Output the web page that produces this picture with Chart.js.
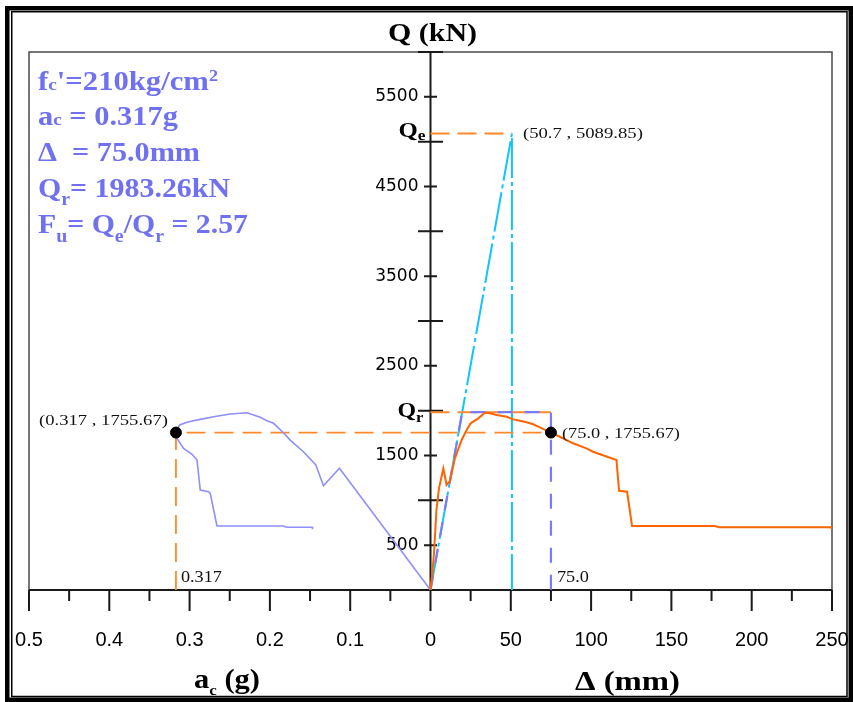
<!DOCTYPE html>
<html>
<head>
<meta charset="utf-8">
<title>Q - ac / Δ</title>
<script src="https://cdn.jsdelivr.net/npm/chart.js@4.4.1/dist/chart.umd.min.js"></script>
<style>
  html, body { margin: 0; padding: 0; background: #fff; }
  #wrap { width: 853px; height: 702px; }
</style>
</head>
<body>
<div id="wrap"><canvas id="c" width="853" height="702"></canvas></div>
<script>
// Capacity curve expressed as spectral acceleration (g) against base shear (kN)
const accelG = [0, 0.1134, 0.1333, 0.1428, 0.1582, 0.1748, 0.1831, 0.1955, 0.2037, 0.2121, 0.2204, 0.2286,
  0.2494, 0.2701, 0.2867, 0.2950, 0.3032, 0.3124, 0.317, 0.3157, 0.3075, 0.2970, 0.2908, 0.2867,
  0.2764, 0.2743, 0.2659, 0.1831, 0.1789, 0.147, 0.147];
const accelQ = [0, 1357, 1163, 1394, 1542, 1672, 1754, 1859, 1888, 1926, 1951, 1977,
  1962, 1932, 1903, 1888, 1870, 1840, 1755.67, 1691, 1580, 1513, 1450, 1115,
  1096, 1078, 714, 714, 699, 699, 677];

// Pushover curve: roof displacement (mm) against base shear (kN)
const dispMm = [0, 1.2, 2.2, 3.7, 5.3, 8.0, 10.0, 12.1, 15.2, 19.4, 22.5, 25.0, 29.7, 33.9, 37.0, 41.2,
  47.4, 51.5, 55.7, 59.8, 63.9, 68.1, 75.0, 80.5, 88.8, 97.1, 101.2, 115.8, 117.4, 122.4, 125.5,
  176.9, 180.0, 249.5, 250];
const dispQ = [0, 201, 413, 892, 1137, 1355, 1171, 1215, 1468, 1673, 1784, 1859, 1914, 1977, 1970, 1951,
  1932, 1903, 1888, 1870, 1848, 1814, 1755.67, 1709, 1636, 1580, 1542, 1450, 1107, 1096, 714,
  714, 699, 699, 677];

// Performance values
const fcPrime = 210;        // kg/cm2
const perfAccel = 0.317;    // g
const perfDisp = 75.0;      // mm
const perfQ = 1755.67;      // kN
const Qr = 1983.26;         // kN, idealised yield strength
const dispY = 19.76;        // mm, idealised yield displacement
const Qe = 5089.85;         // kN, elastic demand
const dispE = 50.7;         // mm

// Tick labels
const accelTickLabels = ['0.5', '0.4', '0.3', '0.2', '0.1'];
const dispTickLabels = ['0', '50', '100', '150', '200', '250'];
const qTickLabels = ['500', '1500', '2500', '3500', '4500', '5500'];
const qMajorTicks = [1000, 2000, 3000, 4000, 5000, 6000];

// the acceleration half shares the horizontal scale: 0.1 g occupies the width of 50 mm
const G_SPAN = 500;
const gx = g => -g * G_SPAN;

const xTickValues = [...accelTickLabels.map(l => gx(Number(l))), ...dispTickLabels.map(Number)];
const xTickText = [...accelTickLabels, ...dispTickLabels];

const pts = (xs, ys, fx = v => v) => xs.map((v, i) => ({ x: fx(v), y: ys[i] }));

const ORANGE = '#ff6400';
const ORANGE_D = '#ff8a2c';
const VIOLET = '#7a7aff';
const LAVENDER = '#8e8eff';
const CYAN = '#10c4ff';
const TEXT_VIOLET = '#7070f2';
const SERIF = '"Liberation Serif", "Times New Roman", serif';
const B = px => `bold ${px}px ${SERIF}`;
const R = px => `${px}px ${SERIF}`;

// draws a sequence of text runs, squeezed or stretched horizontally to a given width
function drawRuns(ctx, runs, x, y, width, color, anchor) {
  ctx.save();
  let natural = 0;
  runs.forEach(r => { ctx.font = r.font; r.w = ctx.measureText(r.text).width; natural += r.w; });
  const s = width / natural;
  const left = anchor === 'right' ? x - width : x;
  ctx.translate(left, y);
  ctx.scale(s, 1);
  ctx.fillStyle = color;
  ctx.textAlign = 'left';
  ctx.textBaseline = 'alphabetic';
  let cx = 0;
  runs.forEach(r => { ctx.font = r.font; ctx.fillText(r.text, cx, r.dy || 0); cx += r.w; });
  ctx.restore();
}

const axesFrame = {
  id: 'axesFrame',
  beforeDatasetsDraw(chart) {
    const { ctx, chartArea: a, scales: { x, y } } = chart;
    const x0 = x.getPixelForValue(0), y0 = y.getPixelForValue(0);
    ctx.save();
    // plot frame
    ctx.strokeStyle = '#4a4a4a';
    ctx.lineWidth = 1.5;
    ctx.beginPath();
    ctx.moveTo(a.left, a.bottom); ctx.lineTo(a.left, a.top);
    ctx.lineTo(a.right, a.top); ctx.lineTo(a.right, a.bottom);
    ctx.stroke();
    // axis lines
    ctx.strokeStyle = '#1a1a1a';
    ctx.lineWidth = 2;
    ctx.beginPath();
    ctx.moveTo(a.left, y0); ctx.lineTo(a.right, y0);
    ctx.moveTo(x0, a.top); ctx.lineTo(x0, y0);
    ctx.stroke();
    // horizontal ticks: major at labels, minor midway
    ctx.beginPath();
    xTickValues.forEach((v, i) => {
      const p = x.getPixelForValue(v);
      ctx.moveTo(p, y0); ctx.lineTo(p, y0 + 21);
      if (i < xTickValues.length - 1) {
        const m = x.getPixelForValue((v + xTickValues[i + 1]) / 2);
        ctx.moveTo(m, y0); ctx.lineTo(m, y0 + 11);
      }
    });
    // vertical ticks
    qTickLabels.forEach(l => {
      const p = y.getPixelForValue(Number(l));
      ctx.moveTo(x0 - 6.5, p); ctx.lineTo(x0 + 6.5, p);
    });
    qMajorTicks.forEach(v => {
      const p = y.getPixelForValue(v);
      ctx.moveTo(x0 - 12.5, p); ctx.lineTo(x0 + 12.5, p);
    });
    ctx.stroke();
    ctx.restore();
  }
};

const notes = {
  id: 'notes',
  afterDraw(chart) {
    const { ctx, scales: { x, y } } = chart;
    const px = v => x.getPixelForValue(v), py = v => y.getPixelForValue(v);
    const x0 = px(0), y0 = py(0);

    // axis titles
    drawRuns(ctx, [{ text: 'Q (kN)', font: B(25) }], 388, 41, 89, '#000');
    drawRuns(ctx, [{ text: 'a', font: B(27) }, { text: 'c', font: B(15), dy: 7 }, { text: ' (g)', font: B(27) }],
      194, 688, 66, '#000');
    drawRuns(ctx, [{ text: 'Δ (mm)', font: B(27) }], 575, 690, 105, '#000');

    // parameter block
    drawRuns(ctx, [{ text: 'f', font: B(27) }, { text: 'c', font: B(17) },
      { text: `'=${fcPrime}kg/cm`, font: B(27) }, { text: '2', font: B(16), dy: -9 }], 38, 90, 180, TEXT_VIOLET);
    drawRuns(ctx, [{ text: 'a', font: B(27) }, { text: 'c', font: B(17) },
      { text: ` = ${perfAccel.toFixed(3)}g`, font: B(27) }], 38, 125, 140, TEXT_VIOLET);
    drawRuns(ctx, [{ text: `Δ  = ${perfDisp.toFixed(1)}mm`, font: B(27) }], 38, 161, 162, TEXT_VIOLET);
    drawRuns(ctx, [{ text: 'Q', font: B(27) }, { text: 'r', font: B(18), dy: 8 },
      { text: `= ${Qr.toFixed(2)}kN`, font: B(27) }], 38, 197, 192, TEXT_VIOLET);
    drawRuns(ctx, [{ text: 'F', font: B(27) }, { text: 'u', font: B(18), dy: 9 }, { text: '= Q', font: B(27) },
      { text: 'e', font: B(18), dy: 9 }, { text: '/Q', font: B(27) }, { text: 'r', font: B(18), dy: 9 },
      { text: ` = ${(Qe / Qr).toFixed(2)}`, font: B(27) }], 38, 233, 210, TEXT_VIOLET);

    // strength labels beside the vertical axis
    drawRuns(ctx, [{ text: 'Q', font: B(20) }, { text: 'e', font: B(14), dy: 3 }],
      x0 - 5, py(Qe) + 3.5, 27, '#000', 'right');
    drawRuns(ctx, [{ text: 'Q', font: B(20) }, { text: 'r', font: B(14), dy: 5 }],
      x0 - 7, py(Qr) + 5, 26, '#000', 'right');

    // coordinate labels
    drawRuns(ctx, [{ text: `(${dispE.toFixed(1)} , ${Qe.toFixed(2)})`, font: R(15) }],
      px(dispE) + 11, py(Qe) + 4, 120, '#111');
    drawRuns(ctx, [{ text: `(${perfAccel.toFixed(3)} , ${perfQ.toFixed(2)})`, font: R(15) }],
      px(gx(perfAccel)) - 8, py(perfQ) - 7.5, 129, '#111', 'right');
    drawRuns(ctx, [{ text: `(${perfDisp.toFixed(1)} , ${perfQ.toFixed(2)})`, font: R(15) }],
      px(perfDisp) + 11, py(perfQ) + 5, 118, '#111');
    drawRuns(ctx, [{ text: perfAccel.toFixed(3), font: R(16) }], px(gx(perfAccel)) + 5, y0 - 8, 41, '#111');
    drawRuns(ctx, [{ text: perfDisp.toFixed(1), font: R(16) }], px(perfDisp) + 6, y0 - 8, 32, '#111');

    // double page border
    ctx.save();
    ctx.strokeStyle = '#000';
    ctx.lineWidth = 4.5;
    ctx.strokeRect(7.25, 8.25, 853 - 5 - 4.5, 702 - 6 - 4.5);
    ctx.lineWidth = 1.5;
    ctx.strokeRect(11.75, 11.75, 847 - 11.75, 696.5 - 11.75);
    ctx.restore();
  }
};

const lineDs = (data, color, width, dash, order) => ({
  data, borderColor: color, borderWidth: width, borderDash: dash || [],
  pointRadius: 0, tension: 0, fill: false, order
});

new Chart(document.getElementById('c'), {
  type: 'line',
  data: {
    datasets: [
      { type: 'scatter', data: [{ x: gx(perfAccel), y: perfQ }, { x: perfDisp, y: perfQ }],
        pointRadius: 5.5, pointBackgroundColor: '#000', pointBorderColor: '#000', order: 0 },
      lineDs(pts(dispMm, dispQ), ORANGE, 2, null, 1),
      lineDs(pts(accelG, accelQ, gx), LAVENDER, 1.6, null, 2),
      lineDs([{ x: 0, y: 0 }, { x: dispY, y: Qr }, { x: perfDisp, y: Qr }, { x: perfDisp, y: 0 }],
        VIOLET, 2.2, [15, 12], 3),
      lineDs([{ x: gx(perfAccel), y: 0 }, { x: gx(perfAccel), y: perfQ }, { x: perfDisp, y: perfQ }],
        ORANGE_D, 1.8, [19, 9], 4),
      lineDs([{ x: 0, y: Qr }, { x: perfDisp, y: Qr }], ORANGE_D, 2, [19, 8], 5),
      lineDs([{ x: 0, y: Qe }, { x: dispE, y: Qe }], ORANGE_D, 2, [19, 8], 5),
      lineDs([{ x: 0, y: 0 }, { x: dispE, y: Qe }, { x: dispE, y: 0 }], CYAN, 2, [40, 4, 4, 4], 6)
    ]
  },
  options: {
    responsive: false,
    animation: false,
    devicePixelRatio: 1,
    layout: { padding: { left: 29, right: 21, top: 52, bottom: 0 } },
    plugins: { legend: { display: false }, tooltip: { enabled: false } },
    scales: {
      x: {
        type: 'linear', min: -250, max: 250, position: 'bottom',
        // invisible tick marks only push the labels down; the visible ones are drawn by axesFrame
        grid: { display: true, drawOnChartArea: false, drawTicks: true, tickLength: 38,
                tickColor: 'rgba(0,0,0,0)', color: 'rgba(0,0,0,0)' },
        border: { display: false },
        afterBuildTicks: s => { s.ticks = xTickValues.map(v => ({ value: v })); },
        afterFit: s => { s.height = 112; },
        ticks: {
          autoSkip: false, maxRotation: 0, padding: 0, color: '#000',
          font: { family: '"Liberation Sans", Arial, sans-serif', size: 20 },
          callback: (v, i) => xTickText[i]
        }
      },
      y: {
        // labels are right-aligned a little left of the Q axis line (x = 0), which axesFrame draws
        type: 'linear', min: 0, max: 6000, position: { x: -7.5 },
        grid: { display: false }, border: { display: false },
        afterBuildTicks: s => { s.ticks = qTickLabels.map(l => ({ value: Number(l) })); },
        ticks: {
          padding: 0, color: '#000',
          font: { family: '"DejaVu Sans", sans-serif', size: 17 },
          callback: (v, i) => qTickLabels[i]
        }
      }
    }
  },
  plugins: [axesFrame, notes]
});
</script>
</body>
</html>
